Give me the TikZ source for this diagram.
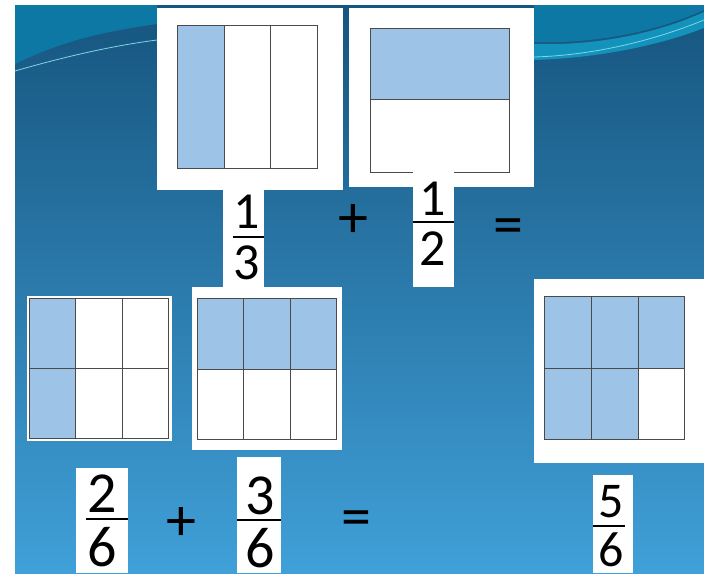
\documentclass[tikz,border=0pt]{standalone}
\usepackage{fontspec}
\setmainfont{Carlito}
\usepackage{tikz}
\usetikzlibrary{calc}
\definecolor{bgtop}{HTML}{16557F}
\definecolor{bgmid}{HTML}{2C82B8}
\definecolor{bgbot}{HTML}{40A0D8}
\definecolor{pteal}{HTML}{0E78A4}
\definecolor{pband}{HTML}{1392BC}
\definecolor{pglint}{HTML}{7FD6E6}
\definecolor{pshade}{HTML}{9DC3E6}
\definecolor{pline}{HTML}{4A4A4A}
\tikzset{
  % white card behind every model and every fraction
  card/.style  = {fill=white},
  cell/.style  = {draw=pline, line width=1pt},
  shade/.style = {fill=pshade},
  digit/.style = {inner sep=0pt, font=\fontsize{#1}{#1}\selectfont},
  digit/.default = 52,
  sign/.style  = {inner sep=0pt, font=\fontsize{60}{60}\selectfont},
  bar/.style   = {line width=2.8pt},
  glint/.style = {draw=pglint, line width=0.8pt},
}
\begin{document}
\begin{tikzpicture}[x=1pt,y=-1pt]
\useasboundingbox (0,0) rectangle (704,573);
\fill[white] (0,0) rectangle (704,573);
% slide background
\shade[top color=bgtop, middle color=bgmid, bottom color=bgbot] (15,5) rectangle (704,573);
\fill[pteal] (15,5) -- (15,64) .. controls (60,42) and (100,32) .. (157,24) -- (157,5) -- cycle;
\draw[glint] (15,71) .. controls (60,58) and (110,46) .. (157,40);
\fill[pteal] (534,5) -- (534,42) .. controls (600,44) and (660,30) .. (704,10) -- (704,5) -- cycle;
\fill[pband] (534,44) .. controls (600,46) and (660,32) .. (704,12) -- (704,28) .. controls (660,45) and (600,58) .. (534,60) -- cycle;
\draw[glint] (534,57) .. controls (600,55) and (660,38) .. (704,20);

% top row: 1/3 and 1/2
\fill[card] (157,8) rectangle (343,190);
\fill[shade] (177,25) rectangle (224,168);
\foreach \x in {224,270} {\draw[cell] (\x,25) -- (\x,168);}
\draw[cell] (177,25) rectangle (317,168);

\fill[card] (349,8) rectangle (534,187);
\fill[shade] (370,28) rectangle (509,99);
\draw[cell] (370,99) -- (509,99);
\draw[cell] (370,28) rectangle (509,172);

\fill[card] (223,187) rectangle (264,287);
\node[digit] (n1) at (247,212) {1};
\node[digit] (d1) at (247,263) {3};
\draw[bar] (233,237) -- (264,237);

\fill[card] (413,170) rectangle (454,287);
\node[digit] (n2) at (433,199) {1};
\node[digit] (d2) at (433,249) {2};
\draw[bar] (413,222) -- (454,222);

\node[sign] (plus1) at (353,221) {+};
\node[sign] (eq1) at (508,232) {=};

% bottom row: 2/6 + 3/6 = 5/6
\fill[card] (27,296) rectangle (172,441);
\fill[shade] (29,298) rectangle (75,438);
\foreach \x in {75,122} {\draw[cell] (\x,298) -- (\x,438);}
\draw[cell] (29,368) -- (168,368);
\draw[cell] (29,298) rectangle (168,438);

\fill[card] (192,287) rectangle (342,450);
\fill[shade] (197,298) rectangle (336,369);
\foreach \x in {243,290} {\draw[cell] (\x,298) -- (\x,439);}
\draw[cell] (197,369) -- (336,369);
\draw[cell] (197,298) rectangle (336,439);

\fill[card] (534,279) rectangle (704,463);
\fill[shade] (544,296) rectangle (684,368) (544,368) rectangle (638,439);
\foreach \x in {591,638} {\draw[cell] (\x,296) -- (\x,439);}
\draw[cell] (544,368) -- (684,368);
\draw[cell] (544,296) rectangle (684,439);

\fill[card] (76,468) rectangle (128,573);
\node[digit=58] (n3) at (102,494) {2};
\node[digit=58] (d3) at (102,547) {6};
\draw[bar] (86,519) -- (128,519);

\fill[card] (237,457) rectangle (281,573);
\node[digit=58] (n4) at (260,496) {3};
\node[digit=58] (d4) at (260,548) {6};
\draw[bar] (237,520) -- (281,520);

\fill[card] (593,475) rectangle (633,573);
\node[digit=50] (n5) at (611,502) {5};
\node[digit=50] (d5) at (611,550) {6};
\draw[bar] (593,526) -- (625,526);

\node[sign] (plus2) at (181,524) {+};
\node[sign] (eq2) at (356,524) {=};
\end{tikzpicture}
\end{document}
